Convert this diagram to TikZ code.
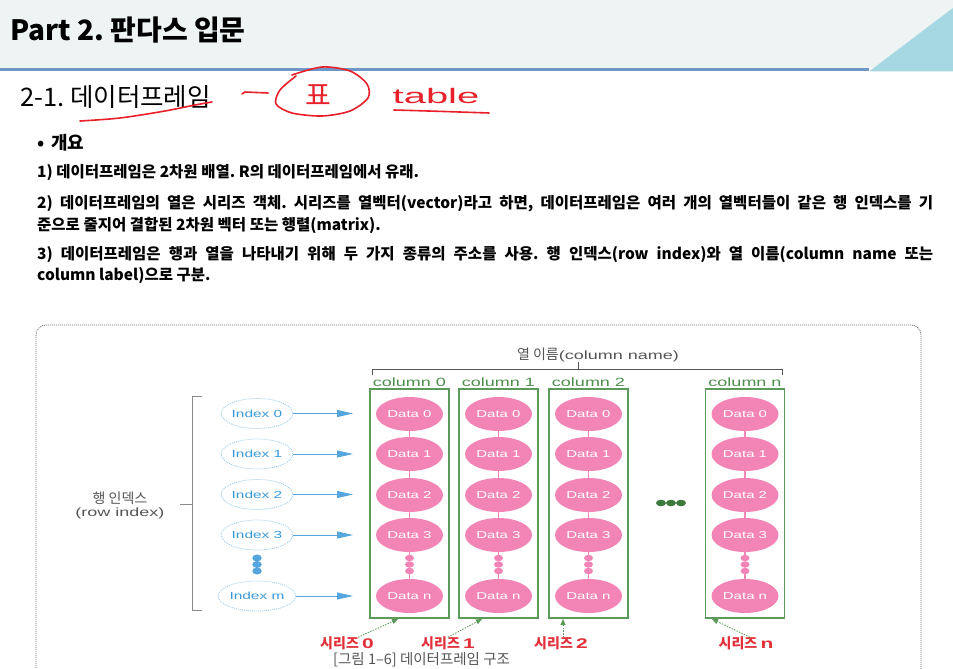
\documentclass[tikz,border=0pt]{standalone}
\usepackage{fontspec}
\setmainfont{Noto Sans CJK KR}
\newfontfamily\kr{Noto Sans CJK KR}
\newfontfamily\wide[FakeStretch=1.5]{Liberation Sans}
\newfontfamily\hand[FakeStretch=1.9]{Liberation Sans}
\usetikzlibrary{arrows.meta,calc,shapes.geometric}
\frenchspacing
\definecolor{hdrbg}{HTML}{EEF4F4}
\definecolor{hdrline}{HTML}{6E96C6}
\definecolor{hdrtri}{HTML}{A6D8E4}
\definecolor{pen}{HTML}{E8202A}
\definecolor{pinkd}{HTML}{F285B6}
\definecolor{boxg}{HTML}{5C9A5C}
\definecolor{txtg}{HTML}{4E8E4E}
\definecolor{dotg}{HTML}{3C7A3C}
\definecolor{idxline}{HTML}{9CCCEA}
\definecolor{idxtxt}{HTML}{3A9ADA}
\definecolor{arrb}{HTML}{55A6DE}
\definecolor{serred}{HTML}{E2303A}
\definecolor{graytxt}{HTML}{555555}
\definecolor{frame}{HTML}{8A8A8A}
\definecolor{framed}{HTML}{6A6A6A}
\begin{document}
\begin{tikzpicture}[x=1pt,y=-1pt,
  datael/.style={ellipse, fill=pinkd, minimum width=67pt, minimum height=34pt, inner sep=0pt, text=white, font=\wide\fontsize{10}{11}\selectfont},
  dotel/.style={ellipse, fill=pinkd, minimum width=9pt, minimum height=6.5pt, inner sep=0pt},
  idxel/.style={ellipse, draw=idxline, dash pattern=on 1pt off 1pt, line width=0.8pt, fill=white, minimum width=64pt, minimum height=30pt, inner sep=0pt, text=idxtxt, font=\wide\fontsize{10.3}{11}\selectfont},
  idxdot/.style={ellipse, fill=arrb, minimum width=9.5pt, minimum height=7pt, inner sep=0pt},
  gdot/.style={ellipse, fill=dotg, minimum width=10pt, minimum height=6.5pt, inner sep=0pt},
  colbox/.style={draw=boxg, line width=1.1pt, fill=white, minimum width=79pt, minimum height=229pt, inner sep=0pt},
  coltxt/.style={text=txtg, inner sep=0pt, font=\wide\fontsize{12}{13}\selectfont},
  link/.style={draw=pinkd, line width=1.4pt},
  idxarrow/.style={draw=arrb, line width=0.9pt, -{Triangle[length=16pt,width=7pt]}},
  serarrow/.style={draw=boxg, line width=0.8pt, dash pattern=on 1.5pt off 1.2pt, -{Triangle[length=6pt,width=5pt]}},
  sertxt/.style={text=serred, inner sep=0pt, font=\bfseries\fontsize{14}{15}\selectfont},
  bodytxt/.style={anchor=west, inner sep=0pt, font=\bfseries\fontsize{15.5}{18}\selectfont},
  penline/.style={draw=pen, line width=1.6pt, line cap=round, line join=round},
  bracket/.style={draw=graytxt, line width=0.9pt}
]
\clip (0,0) rectangle (953,669);
\fill[white] (0,0) rectangle (953,669);
% header
\fill[hdrbg] (0,0) rectangle (953,68);
\fill[hdrline] (0,68) rectangle (869,71.5);
\fill[hdrtri] (869,71.5) -- (953,71.5) -- (953,8) -- cycle;
\node[anchor=west, inner sep=0pt, font=\bfseries\fontsize{28}{32}\selectfont] (title) at (10,30) {Part 2. 판다스 입문};
\node[anchor=west, inner sep=0pt, font=\fontsize{25.5}{28}\selectfont] (sub) at (20,97) {2-1. 데이터프레임};
% handwriting
\draw[penline] plot[smooth] coordinates {(80,121) (120,118) (165,111) (195,105) (212,102)};
\draw[penline] (242,94) -- (245,92) -- (268,93);
\draw[penline] plot[smooth] coordinates {(292,75) (322,67) (350,71) (367,84) (368,98) (350,111) (322,116) (292,113) (276,104) (280,90) (296,76)};
\node[anchor=base, inner sep=0pt, text=pen, font=\kr\fontsize{28}{30}\selectfont] (pyo) at (318,105) {표};
\node[anchor=base, inner sep=0pt, text=pen, font=\hand\fontsize{21}{24}\selectfont] (tbl) at (436,103) {table};
\draw[penline] (394,110) .. controls (430,111) and (460,112) .. (489,113);
% body text
\node[anchor=west, inner sep=0pt, font=\bfseries\fontsize{18}{20}\selectfont] (ov) at (37,143) {•\hspace{7pt}개요};
\node[bodytxt] (l1) at (37,173) {1) 데이터프레임은 2차원 배열. R의 데이터프레임에서 유래.};
\node[bodytxt] (l2a) at (37,204) {\makebox[896pt][s]{2) 데이터프레임의 열은 시리즈 객체. 시리즈를 열벡터(vector)라고 하면, 데이터프레임은 여러 개의 열벡터들이 같은 행 인덱스를 기}};
\node[bodytxt] (l2b) at (37,225) {준으로 줄지어 결합된 2차원 벡터 또는 행렬(matrix).};
\node[bodytxt] (l3a) at (37,255) {\makebox[896pt][s]{3) 데이터프레임은 행과 열을 나타내기 위해 두 가지 종류의 주소를 사용. 행 인덱스(row index)와 열 이름(column name 또는}};
\node[bodytxt] (l3b) at (37,276) {column label)으로 구분.};
% frame
\draw[framed, line width=0.8pt, dash pattern=on 1pt off 1pt, rounded corners=10pt] (36,325) rectangle (921,720);
% column name bracket
\node[inner sep=0pt, text=graytxt] (cname) at (598,355) {{\kr\fontsize{14}{15}\selectfont 열 이름}{\wide\fontsize{12}{13}\selectfont (column name)}};
\draw[bracket] (372,375) -- (372,369) -- (782,369) -- (782,375);
\draw[bracket] (578,369) -- (578,362);
% columns
\foreach \c/\x in {0/409.5, 1/498.5, 2/588.5, n/745} {
  \node[colbox] (box\c) at (\x,503.5) {};
  \node[coltxt] (col\c) at (\x,382) {column \c};
  \node[datael] (d\c0) at (\x,414) {Data 0};
  \node[datael] (d\c1) at (\x,454) {Data 1};
  \node[datael] (d\c2) at (\x,495) {Data 2};
  \node[datael] (d\c3) at (\x,535) {Data 3};
  \node[datael] (d\c n) at (\x,596) {Data n};
  \node[dotel] (e\c1) at (\x,558) {};
  \node[dotel] (e\c2) at (\x,564.5) {};
  \node[dotel] (e\c3) at (\x,571) {};
  \draw[link] (d\c0) -- (d\c1);
  \draw[link] (d\c1) -- (d\c2);
  \draw[link] (d\c2) -- (d\c3);
  \draw[link] (d\c3) -- (e\c1);
  \draw[link] (e\c3) -- (d\c n);
}
% middle dots
\node[gdot] (g1) at (661,503) {};
\node[gdot] (g2) at (671,503) {};
\node[gdot] (g3) at (681,503) {};
% index
\foreach \i/\y in {0/413.5, 1/454, 2/494.5, 3/535, m/596} {
  \node[idxel] (i\i) at (257,\y) {Index \i};
  \coordinate (a\i) at (353,\y);
  \draw[idxarrow] (i\i.east) -- (a\i);
}
\node[idxdot] (id1) at (257,558) {};
\node[idxdot] (id2) at (257,564.5) {};
\node[idxdot] (id3) at (257,571) {};
% row bracket
\draw[draw=frame, line width=1pt] (202,396) -- (192,396) -- (192,610) -- (202,610);
\draw[draw=frame, line width=1pt] (192,504) -- (180,504);
\node[inner sep=0pt, text=graytxt, align=center] (rowlab) at (120,505) {{\kr\fontsize{14}{17}\selectfont 행 인덱스}\\[1pt]{\wide\fontsize{12}{14}\selectfont (row index)}};
% series labels
\node[sertxt] (s0) at (347,643) {시리즈 {\wide 0}};
\node[sertxt] (s1) at (448,643) {시리즈 {\wide 1}};
\node[sertxt] (s2) at (561,643) {시리즈 {\wide 2}};
\node[sertxt] (sn) at (746,643) {시리즈 {\wide n}};
\coordinate (t0) at (398,619);
\coordinate (t1) at (482,619);
\coordinate (t2) at (563,619);
\coordinate (tn) at (712,619);
\draw[serarrow] ([xshift=11pt,yshift=-1pt]s0.north) -- (t0);
\draw[serarrow] ([yshift=-1pt]s1.north) -- (t1);
\draw[serarrow] ([xshift=2pt,yshift=-1pt]s2.north) -- (t2);
\draw[serarrow] ([xshift=4pt,yshift=-1pt]sn.north) -- (tn);
% caption
\node[anchor=west, inner sep=0pt, text=graytxt, font=\fontsize{14.5}{16}\selectfont] (cap) at (333,660) {[그림 1–6] 데이터프레임 구조};
\end{tikzpicture}
\end{document}
